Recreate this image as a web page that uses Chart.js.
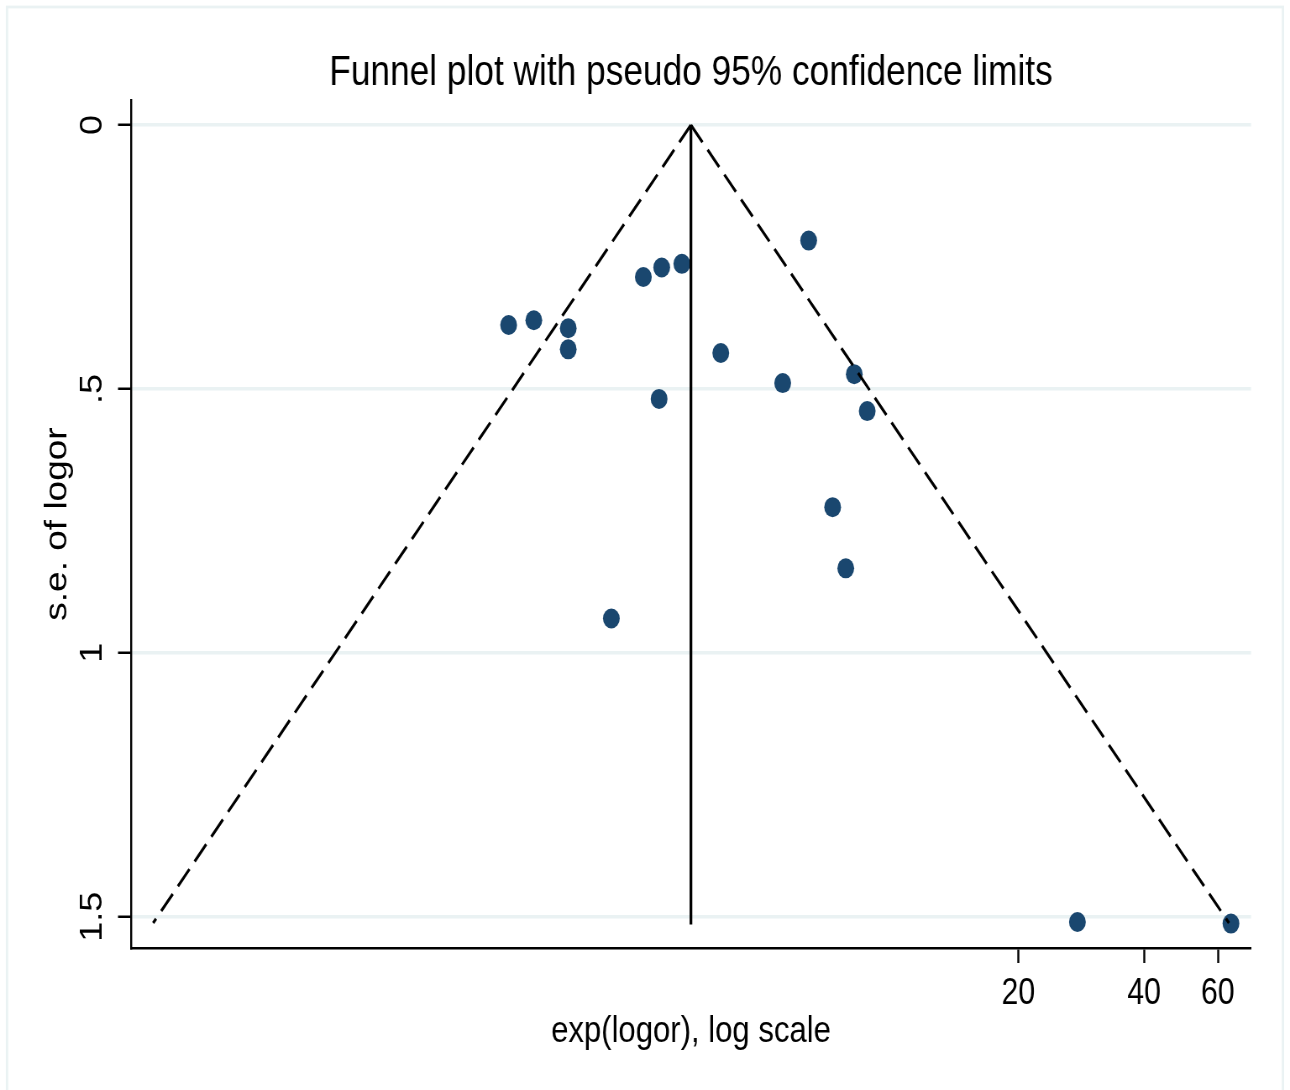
<!DOCTYPE html>
<html>
<head>
<meta charset="utf-8">
<title>Funnel plot</title>
<script src="https://cdn.jsdelivr.net/npm/chart.js@4.4.1/dist/chart.umd.min.js"></script>
<style>
  html, body { margin: 0; padding: 0; background: #fff; overflow: hidden; }
  /* the reference is horizontally squeezed, so draw wide and squeeze the same way */
  #wrap { width: 1536px; height: 1090px; transform: scaleX(0.83984); transform-origin: 0 0; }
</style>
</head>
<body>
<div id="wrap"><canvas id="funnel"></canvas></div>
<script>
// study estimates (odds ratio) and their standard errors
const studyOr = [6.31, 3.14, 2.81, 2.54, 1.21, 1.39, 1.68, 1.68, 3.89, 5.47, 8.11, 8.71, 2.77, 7.20, 7.74, 2.13, 27.7, 64.5];
const studySe = [0.219, 0.263, 0.270, 0.288, 0.379, 0.370, 0.385, 0.425, 0.432, 0.489, 0.472, 0.542, 0.519, 0.724, 0.840, 0.935, 1.510, 1.513];

// pooled estimate line and pseudo 95% limits
const pooledOr = [3.30, 3.30];
const pooledSe = [0, 1.515];
const leftLimitOr = [3.30, 0.171];
const rightLimitOr = [3.30, 63.8];
const limitSe = [0, 1.512];

// axes
const xTicks = [20, 40, 60];
const yTicks = [0, 0.5, 1, 1.5];
const yTickLabels = ['0', '.5', '1', '1.5'];

const FONT = "'Liberation Sans', Arial, sans-serif";
const GRID = '#eaf2f3';
const NAVY = '#1a476f';

function pairs(xs, ys) {
    return xs.map((x, i) => ({ x: x, y: ys[i] }));
}

function lineSet(xs, ys, dashed) {
    return {
        type: 'scatter',
        data: pairs(xs, ys),
        showLine: true,
        borderColor: '#000',
        borderWidth: dashed ? 3.1 : 3.3,
        borderDash: dashed ? [22, 9.8] : [],
        pointRadius: 0,
        order: 0
    };
}

// light frame round the whole graph
const framePlugin = {
    id: 'frame',
    beforeDraw(chart) {
        const ctx = chart.ctx;
        ctx.save();
        ctx.strokeStyle = GRID;
        ctx.lineWidth = 2.8;
        ctx.strokeRect(8.3, 7, 1519.3, 1100);
        ctx.restore();
    }
};

new Chart(document.getElementById('funnel'), {
    type: 'scatter',
    data: {
        datasets: [
            {
                data: pairs(studyOr, studySe),
                pointRadius: 10,
                pointBackgroundColor: NAVY,
                pointBorderWidth: 0,
                order: 1
            },
            lineSet(pooledOr, pooledSe, false),
            lineSet(leftLimitOr, limitSe, true),
            lineSet(rightLimitOr, limitSe, true)
        ]
    },
    options: {
        responsive: true,
        maintainAspectRatio: false,
        animation: false,
        layout: { padding: { left: 0, right: 46.5, top: 0, bottom: 0 } },
        plugins: {
            legend: { display: false },
            tooltip: { enabled: false },
            title: {
                display: true,
                text: 'Funnel plot with pseudo 95% confidence limits',
                color: '#000',
                fullSize: false,
                font: { family: FONT, size: 42, weight: 'normal' },
                padding: { top: 48.5, bottom: 1.1 }
            }
        },
        scales: {
            x: {
                type: 'logarithmic',
                position: 'bottom',
                min: 0.1514,
                max: 72.0,
                afterBuildTicks(scale) {
                    scale.ticks = xTicks.map(v => ({ value: v }));
                },
                afterFit(scale) { scale.height = 142; },
                border: { display: true, color: '#000', width: 2.5 },
                grid: { drawOnChartArea: false, drawTicks: true, tickLength: 15, tickColor: '#000', tickWidth: 2.4 },
                ticks: {
                    autoSkip: false,
                    maxRotation: 0,
                    padding: 9.8,
                    color: '#000',
                    font: { family: FONT, size: 36 },
                    callback: v => String(v)
                },
                title: {
                    display: true,
                    text: 'exp(logor), log scale',
                    color: '#000',
                    font: { family: FONT, size: 37 },
                    padding: { top: 0, bottom: 35.8 }
                }
            },
            y: {
                type: 'linear',
                reverse: true,
                min: -0.0474,
                max: 1.5593,
                afterBuildTicks(scale) {
                    scale.ticks = yTicks.map(v => ({ value: v }));
                },
                afterFit(scale) { scale.width = 156; },
                border: { display: true, color: '#000', width: 2.4 },
                grid: { color: GRID, lineWidth: 3.5, drawTicks: true, tickLength: 15.5, tickColor: '#000', tickWidth: 2.5 },
                ticks: {
                    autoSkip: false,
                    minRotation: 90,
                    maxRotation: 90,
                    crossAlign: 'center',
                    padding: 4.5,
                    color: '#000',
                    font: { family: FONT, size: 36 },
                    callback: (v, i) => yTickLabels[i]
                },
                title: {
                    display: true,
                    text: 's.e. of logor',
                    color: '#000',
                    font: { family: FONT, size: 37 },
                    padding: { top: 46.8, bottom: 0 }
                }
            }
        }
    },
    plugins: [framePlugin]
});
</script>
</body>
</html>
